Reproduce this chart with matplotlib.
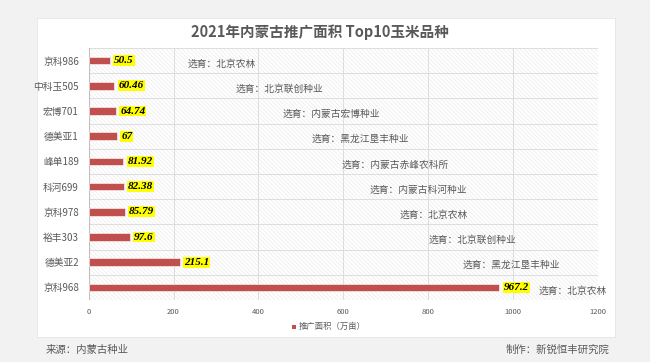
import matplotlib

matplotlib.use("Agg")
import matplotlib.pyplot as plt
from matplotlib.patches import Rectangle

plt.rcParams["font.family"] = ["Noto Sans CJK SC", "DejaVu Sans"]
plt.rcParams["hatch.linewidth"] = 0.5

# ------------------------------ data -----------------------------------------
varieties = ["京科986", "中科玉505", "宏博701", "德美亚1", "峰单189",
             "科河699", "京科978", "裕丰303", "德美亚2", "京科968"]
area = [50.5, 60.46, 64.74, 67, 81.92, 82.38, 85.79, 97.6, 215.1, 967.2]
area_labels = ["50.5", "60.46", "64.74", "67", "81.92",
               "82.38", "85.79", "97.6", "215.1", "967.2"]
breeders = ["北京农林", "北京联创种业", "内蒙古宏博种业", "黑龙江垦丰种业",
            "内蒙古赤峰农科所", "内蒙古科河种业", "北京农林", "北京联创种业",
            "黑龙江垦丰种业", "北京农林"]
# where each breeder note starts, in axis units
note_x = [234, 347, 458, 526, 597, 663, 733, 800, 882, 1061]
xticks = [0, 200, 400, 600, 800, 1000, 1200]

BAR = "#c0504d"
TXT = "#595959"
GRID = "#d9d9d9"

fig = plt.figure(figsize=(6.5, 3.62), dpi=100)
fig.patch.set_facecolor("#f2f2f2")

# white card behind the chart (own axes so it stays underneath)
card = fig.add_axes([37 / 650, 1 - 337 / 362, (615 - 37) / 650, (337 - 18) / 362], zorder=-5)
card.set_xticks([])
card.set_yticks([])
card.set_facecolor("white")
for s in card.spines.values():
    s.set_color("#e6e6e6")
    s.set_linewidth(0.6)

ax = fig.add_axes([88.6 / 650, 1 - 300 / 362, (598 - 88.6) / 650, (300 - 48) / 362])
ax.set_facecolor("none")
ax.add_patch(Rectangle((0, 0), 1, 1, transform=ax.transAxes, facecolor="white",
                       edgecolor="#ebebeb", hatch="\\\\\\\\\\\\\\\\", lw=0, zorder=0))

y = list(range(len(varieties)))
ax.barh(y, area, height=0.3, color=BAR, edgecolor="white", lw=0.4, zorder=3)

for yi, v, lab in zip(y, area, area_labels):
    ax.text(v + 10, yi, lab, va="center", ha="left", fontsize=8,
            family="Liberation Serif", weight="bold", style="italic", color="black",
            bbox=dict(boxstyle="square,pad=0.08", fc="#ffff00", ec="none"), zorder=4)

for yi, nx, b in zip(y, note_x, breeders):
    ax.text(nx, yi + 0.12, "选育：" + b, va="center", ha="left", fontsize=7,
            color=TXT, zorder=4)

ax.set_xlim(0, 1200)
ax.set_ylim(len(varieties) - 0.5, -0.5)
ax.set_xticks(xticks)
ax.set_yticks(y)
ax.set_yticklabels(varieties)
ax.tick_params(axis="x", labelsize=5.5, colors=TXT, length=0, pad=6)
ax.tick_params(axis="y", labelsize=7, colors=TXT, length=0, pad=7)

for xt in xticks:
    ax.axvline(xt, color=GRID, lw=0.6, zorder=1)
for k in range(len(varieties) + 1):
    ax.axhline(k - 0.5, color=GRID, lw=0.6, zorder=1)
for s in ax.spines.values():
    s.set_visible(False)
ax.axvline(0, color="#bfbfbf", lw=0.8, zorder=2)

# legend
fig.patches.append(Rectangle((292 / 650, 1 - 329 / 362), 4 / 650, 4 / 362,
                             transform=fig.transFigure, facecolor=BAR, lw=0))
fig.text(299 / 650, 1 - 326 / 362, "推广面积（万亩）", fontsize=6, color=TXT,
         va="center", ha="left")

fig.text(320 / 650, 1 - 32 / 362, "2021年内蒙古推广面积 Top10玉米品种", fontsize=10.5,
         weight="bold", color=TXT, ha="center", va="center")
fig.text(46 / 650, 1 - 350 / 362, "来源：内蒙古种业", fontsize=7.5, color=TXT,
         ha="left", va="center")
fig.text(609 / 650, 1 - 350 / 362, "制作：新锐恒丰研究院", fontsize=7.5, color=TXT,
         ha="right", va="center")

fig.savefig("out.png", dpi=100, facecolor=fig.get_facecolor())
